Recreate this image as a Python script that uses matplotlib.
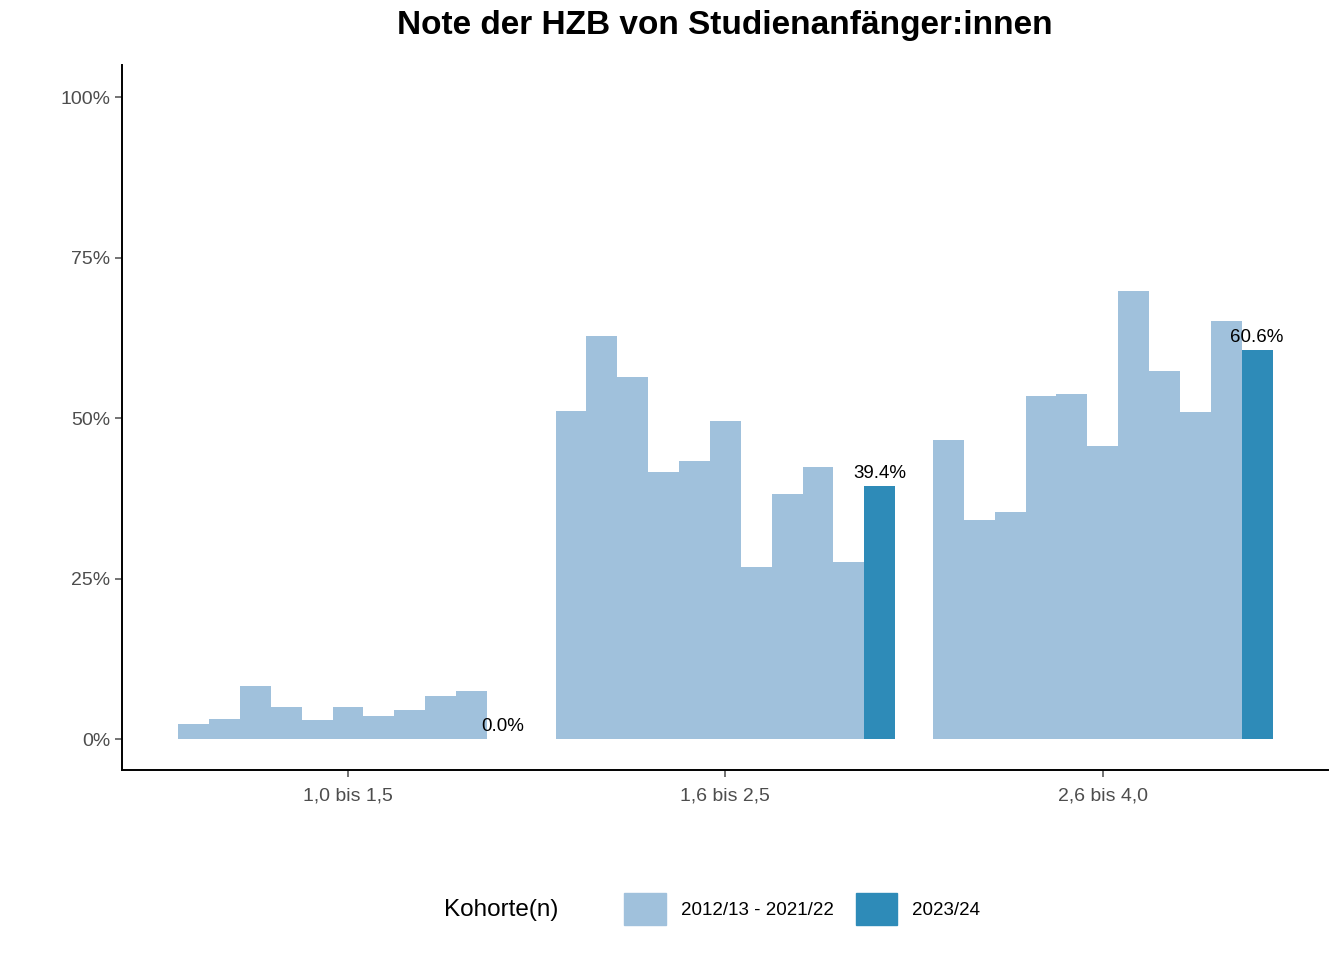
import numpy as np
import matplotlib
matplotlib.use("Agg")
import matplotlib.pyplot as plt
from matplotlib.patches import Patch

plt.rcParams["font.family"] = "Liberation Sans"

categories = ["1,0 bis 1,5", "1,6 bis 2,5", "2,6 bis 4,0"]
hist_vals = [
    [2.3, 3.1, 8.3, 5.0, 3.0, 5.0, 3.6, 4.5, 6.7, 7.5],
    [51.2, 62.8, 56.5, 41.6, 43.3, 49.5, 26.8, 38.2, 42.4, 27.6],
    [46.6, 34.1, 35.4, 53.4, 53.7, 45.6, 69.8, 57.3, 50.9, 65.1],
]
current_vals = [0.0, 39.4, 60.6]
legend_labels = ["2012/13 - 2021/22", "2023/24"]

light = "#a0c1dc"
dark = "#2e8bb8"

fig = plt.figure(figsize=(13.44, 9.6), dpi=100)
ax = fig.add_axes([0.0908, 0.198, 0.897, 0.734])

n = 11
w = 0.9 / n
for i, cat in enumerate(categories):
    c = i + 1
    for j, v in enumerate(hist_vals[i]):
        x = c - 0.45 + w * (j + 0.5)
        ax.bar(x, v, width=w, color=light, linewidth=0)
    x = c - 0.45 + w * (n - 0.5)
    ax.bar(x, current_vals[i], width=w, color=dark, linewidth=0)
    ax.text(x, current_vals[i] + 0.6, f"{current_vals[i]:.1f}%", ha="center",
            va="bottom", fontsize=13.5)

ax.set_xlim(0.401, 3.596)
ax.set_ylim(-4.8, 105)
ax.set_xticks([1, 2, 3])
ax.set_xticklabels(categories)
ax.set_yticks([0, 25, 50, 75, 100])
ax.set_yticklabels(["0%", "25%", "50%", "75%", "100%"])
ax.tick_params(labelsize=14, colors="#4d4d4d", length=5, width=1.1)
ax.tick_params(axis="x", pad=8)
for s in ["top", "right"]:
    ax.spines[s].set_visible(False)
for s in ["left", "bottom"]:
    ax.spines[s].set_linewidth(1.4)

fig.suptitle("Note der HZB von Studienanfänger:innen", fontsize=24,
             fontweight="bold", x=0.539, y=0.99)

fig.text(0.330, 0.052, "Kohorte(n)", fontsize=17.5, va="center")
handles = [Patch(color=light), Patch(color=dark)]
fig.legend(handles, legend_labels, loc="center", bbox_to_anchor=(0.597, 0.053),
           ncol=2, frameon=False, fontsize=13.5, handlelength=2.2,
           handleheight=2.2, columnspacing=1.2, handletextpad=0.8)

fig.savefig("out.png", dpi=100)
